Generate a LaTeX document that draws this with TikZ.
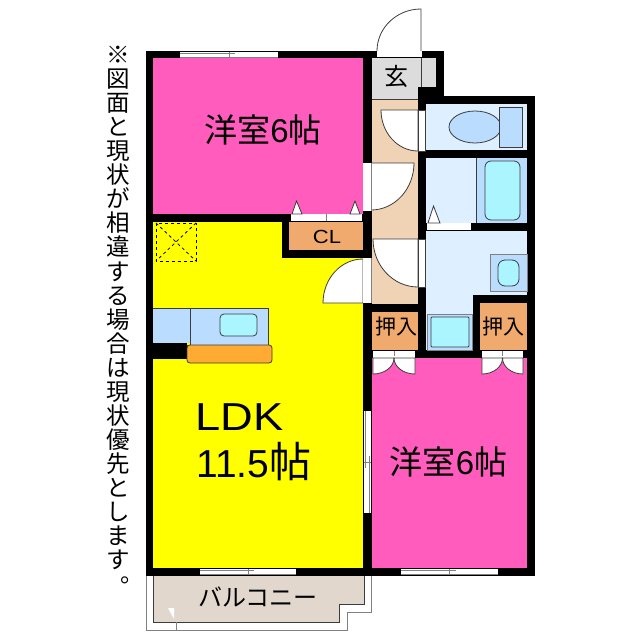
\documentclass[tikz,border=0pt]{standalone}
\usepackage{fontspec}
\setmainfont{Liberation Sans}
\newfontfamily\jpfont{Noto Sans CJK JP}
\definecolor{roompink}{RGB}{255,92,190}
\definecolor{ldkyellow}{RGB}{255,255,0}
\definecolor{hallbeige}{RGB}{240,210,180}
\definecolor{closetorange}{RGB}{240,170,110}
\definecolor{wetlight}{RGB}{222,240,255}
\definecolor{wetblue}{RGB}{185,220,255}
\definecolor{wetcyan}{RGB}{170,245,255}
\definecolor{entrygray}{RGB}{220,220,220}
\definecolor{balconytan}{RGB}{225,215,205}
\definecolor{counterorange}{RGB}{255,170,50}
\definecolor{linegray}{RGB}{60,60,60}
\tikzset{
  wall/.style={fill=black},
  fitting/.style={draw=linegray, line width=0.8pt},
  door/.style={fill=white, draw=linegray, line width=0.8pt},
  sash/.style={draw=gray, line width=0.8pt},
  jptext/.style={inner sep=0pt, font=\jpfont}
}
\begin{document}
\begin{tikzpicture}[x=1pt, y=-1pt]
  \def\hwin#1#2#3{% horizontal window: left, right, top
    \fill [white] (#1,#3) rectangle (#2,#3+6);
    \draw [sash] (#1,#3+1) -- ({(#1+#2)/2+6},#3+1);
    \draw [sash] ({(#1+#2)/2},#3+5) -- (#2,#3+5);
    \draw [sash] (#1,#3+5.5) -- ({(#1+#2)/2},#3+5.5);
    \draw [sash] ({(#1+#2)/2},#3) -- ({(#1+#2)/2},#3+6);
  }
  \useasboundingbox (0,0) rectangle (640,640);

  % ROOMS
  \fill [roompink]   (153,58)  rectangle (364,215);
  \fill [ldkyellow]  (153,222) rectangle (364,569);
  \fill [roompink]   (371,357) rectangle (528,569);
  \fill [hallbeige]  (371,99)  rectangle (419,305);
  \fill [wetlight]   (425,103) rectangle (528,151);
  \fill [wetlight]   (425,157) rectangle (476,224);
  \fill [wetblue]    (476,157) rectangle (528,224);
  \fill [wetlight]   (425,230) rectangle (528,296);
  \fill [wetlight]   (425,296) rectangle (474,351);
  \fill [closetorange] (289,222) rectangle (364,251);
  \fill [closetorange] (371,311) rectangle (419,351);
  \fill [closetorange] (480,302) rectangle (528,351);

  % ENTRY
  \fill [entrygray] (371,58) rectangle (437,88);
  \fill [entrygray] (371,88) rectangle (419,99);
  \draw [fitting] (421,58) -- (421,88);
  \draw [fitting] (371,99) -- (419,99);

  % BALCONY
  \fill [balconytan] (153,575) -- (153,622) -- (339,622) -- (339,604) -- (364,604) -- (364,575) -- cycle;
  \draw [fitting] (153,575) -- (153,622) -- (339,622) -- (339,604) -- (364,604) -- (364,575);
  \draw [sash, line width=1pt] (146,575) -- (146,630) -- (347,630) -- (347,612) -- (371,612) -- (371,575);
  \draw [sash, line width=1pt] (176.5,622) -- (176.5,630);
  \fill [white] (168,608) -- (174,608) -- (174,619) -- cycle;

  % WALLS
  \fill [wall] (146,51)  rectangle (153,576);
  \fill [wall] (146,51)  rectangle (444,58);
  \fill [wall] (363,51)  rectangle (372,163);
  \fill [wall] (363,211) rectangle (372,258);
  \fill [wall] (363,303) rectangle (372,576);
  \fill [wall] (153,214) rectangle (372,222);
  \fill [wall] (282,214) rectangle (289,258);
  \fill [wall] (282,250) rectangle (372,258);
  \fill [wall] (436,51)  rectangle (444,96);
  \fill [wall] (418,87)  rectangle (444,104);
  \fill [wall] (418,87)  rectangle (426,358);
  \fill [wall] (418,96)  rectangle (535,104);
  \fill [wall] (527,96)  rectangle (535,576);
  \fill [wall] (426,150) rectangle (535,158);
  \fill [wall] (426,223) rectangle (535,231);
  \fill [wall] (473,295) rectangle (535,303);
  \fill [wall] (473,295) rectangle (480,358);
  \fill [wall] (363,304) rectangle (426,312);
  \fill [wall] (363,350) rectangle (535,358);
  \fill [wall] (146,568) rectangle (535,576);
  \fill [wall] (153,343) rectangle (187,359);

  % WINDOWS
  \hwin{180}{278}{52}
  \hwin{200}{296}{569}
  \hwin{401}{498}{569}
  \fill [white] (364,411) rectangle (371,513);
  \draw [sash] (365,411) -- (365,468);
  \draw [sash] (369,456) -- (369,513);
  \draw [sash] (364,462) -- (371,462);

  % DOORS
  \fill [white] (377,51) rectangle (422,57);
  \draw [fitting] (421,51) -- (421,9) arc[start angle=-90, end angle=-180, x radius=44, y radius=42];
  \filldraw [door] (418,110) -- (381,110) arc[start angle=180, end angle=90, x radius=37, y radius=41] -- cycle;
  \filldraw [door] (371,163) -- (414,163) arc[start angle=0, end angle=90, x radius=43, y radius=47] -- cycle;
  \filldraw [door] (418,239) -- (373,239) arc[start angle=180, end angle=90, x radius=45, y radius=48] -- cycle;
  \filldraw [door] (363,303) -- (323,303) arc[start angle=180, end angle=270, x radius=40, y radius=44] -- cycle;
  \filldraw [door] (418,110) rectangle (425,151);
  \filldraw [door] (418,239) rectangle (425,287);
  \fill [white] (363,163) rectangle (371,211);
  \fill [white] (363,258) rectangle (371,303);
  \draw [sash] (371,163) -- (371,211);
  \draw [sash] (371,258) -- (371,303);

  % CLOSET DOORS
  \fill [white] (291,214) rectangle (362,221);
  \draw [sash] (326,214) -- (326,221);
  \filldraw [door] (292,214) -- (296.5,201) -- (302,214) -- cycle;
  \filldraw [door] (350,214) -- (355,201) -- (360,214) -- cycle;
  \fill [white] (427,223) rectangle (471,230);
  \filldraw [door] (428,223) -- (433.5,206) -- (440,223) -- cycle;
  \foreach \cx/\hw in {394/21, 502.5/20.5} {
    \fill [white] (\cx-\hw,351) rectangle (\cx+\hw,358);
    \draw [sash] (\cx,351) -- (\cx,356);
    \filldraw [door] (\cx-\hw,358) -- (\cx-\hw,374) arc[start angle=90, end angle=0, x radius=\hw, y radius=16] -- cycle;
    \filldraw [door] (\cx+\hw,358) -- (\cx+\hw,374) arc[start angle=90, end angle=180, x radius=\hw, y radius=16] -- cycle;
  }

  % TOILET, BATH, WASHROOM
  \draw [fitting] (476,158) -- (476,223);
  \filldraw [fitting, fill=wetblue] (475,127) ellipse [x radius=26, y radius=16];
  \filldraw [fitting, fill=wetblue] (499,107) rectangle (522,147);
  \filldraw [fitting, fill=wetcyan, rounded corners=6pt] (485,161) rectangle (520,220);
  \filldraw [fitting, fill=wetblue, draw=gray] (490,254) rectangle (527,291);
  \filldraw [fitting, fill=wetcyan, rounded corners=7pt] (498,260) rectangle (519,286);
  \filldraw [fitting, fill=wetblue, draw=gray] (427,314) rectangle (472,350);
  \filldraw [fitting, fill=wetcyan, rounded corners=1pt] (431,317) rectangle (469,347);

  % KITCHEN
  \fill [wetblue] (153,308) rectangle (191,343);
  \fill [wetblue] (191,308) rectangle (268,345);
  \draw [fitting] (153,308) -- (268,308) -- (268,345) -- (187,345);
  \draw [fitting] (190.7,308) -- (190.7,345);
  \filldraw [fitting, fill=wetcyan, rounded corners=4pt] (220,314) rectangle (257,336);
  \filldraw [fitting, fill=counterorange, rounded corners=3pt] (187,345) rectangle (272,363);

  % FLOOR HATCH
  \draw [dashed, line width=0.8pt] (156,223) rectangle (196,261);
  \draw [dashed, line width=0.8pt] (156,223) -- (196,261);
  \draw [dashed, line width=0.8pt] (196,223) -- (156,261);

  % LABELS
  \node [jptext] (roomtop)   at (263,130) {\fontsize{33}{33}\selectfont 洋室{\fontspec{Liberation Sans}6}帖};
  \node [jptext] (roombot)   at (448.5,462) {\fontsize{33}{33}\selectfont 洋室{\fontspec{Liberation Sans}6}帖};
  \node [inner sep=0pt, anchor=west] (ldk)  at (195,417) {\fontsize{39}{39}\selectfont\scalebox{1.16}[1]{LDK}};
  \node [inner sep=0pt, anchor=west] (area) at (196,462) {\fontsize{39}{39}\selectfont 11.5{\jpfont\fontsize{42}{42}\selectfont 帖}};
  \node [jptext] (entry)     at (396,76)  {\fontsize{24}{24}\selectfont 玄};
  \node [inner sep=0pt] (closetcl) at (327,237) {\fontsize{19}{19}\selectfont\scalebox{1.16}[1]{CL}};
  \node [jptext] (closetl)   at (396,327) {\fontsize{21}{21}\selectfont 押入};
  \node [jptext] (closetr)   at (503,327) {\fontsize{21}{21}\selectfont 押入};
  \node [jptext] (balcony)   at (258,597) {\fontsize{24}{24}\selectfont バルコニー};
  \node [inner sep=0pt, align=center, anchor=north, font=\jpfont\fontsize{23.5}{24.05}\selectfont] (notice) at (118,46) {※\\図\\面\\と\\現\\状\\が\\相\\違\\す\\る\\場\\合\\は\\現\\状\\優\\先\\と\\し\\ま\\す\\\hspace{28pt}\raisebox{10pt}{。}};

\end{tikzpicture}
\end{document}
